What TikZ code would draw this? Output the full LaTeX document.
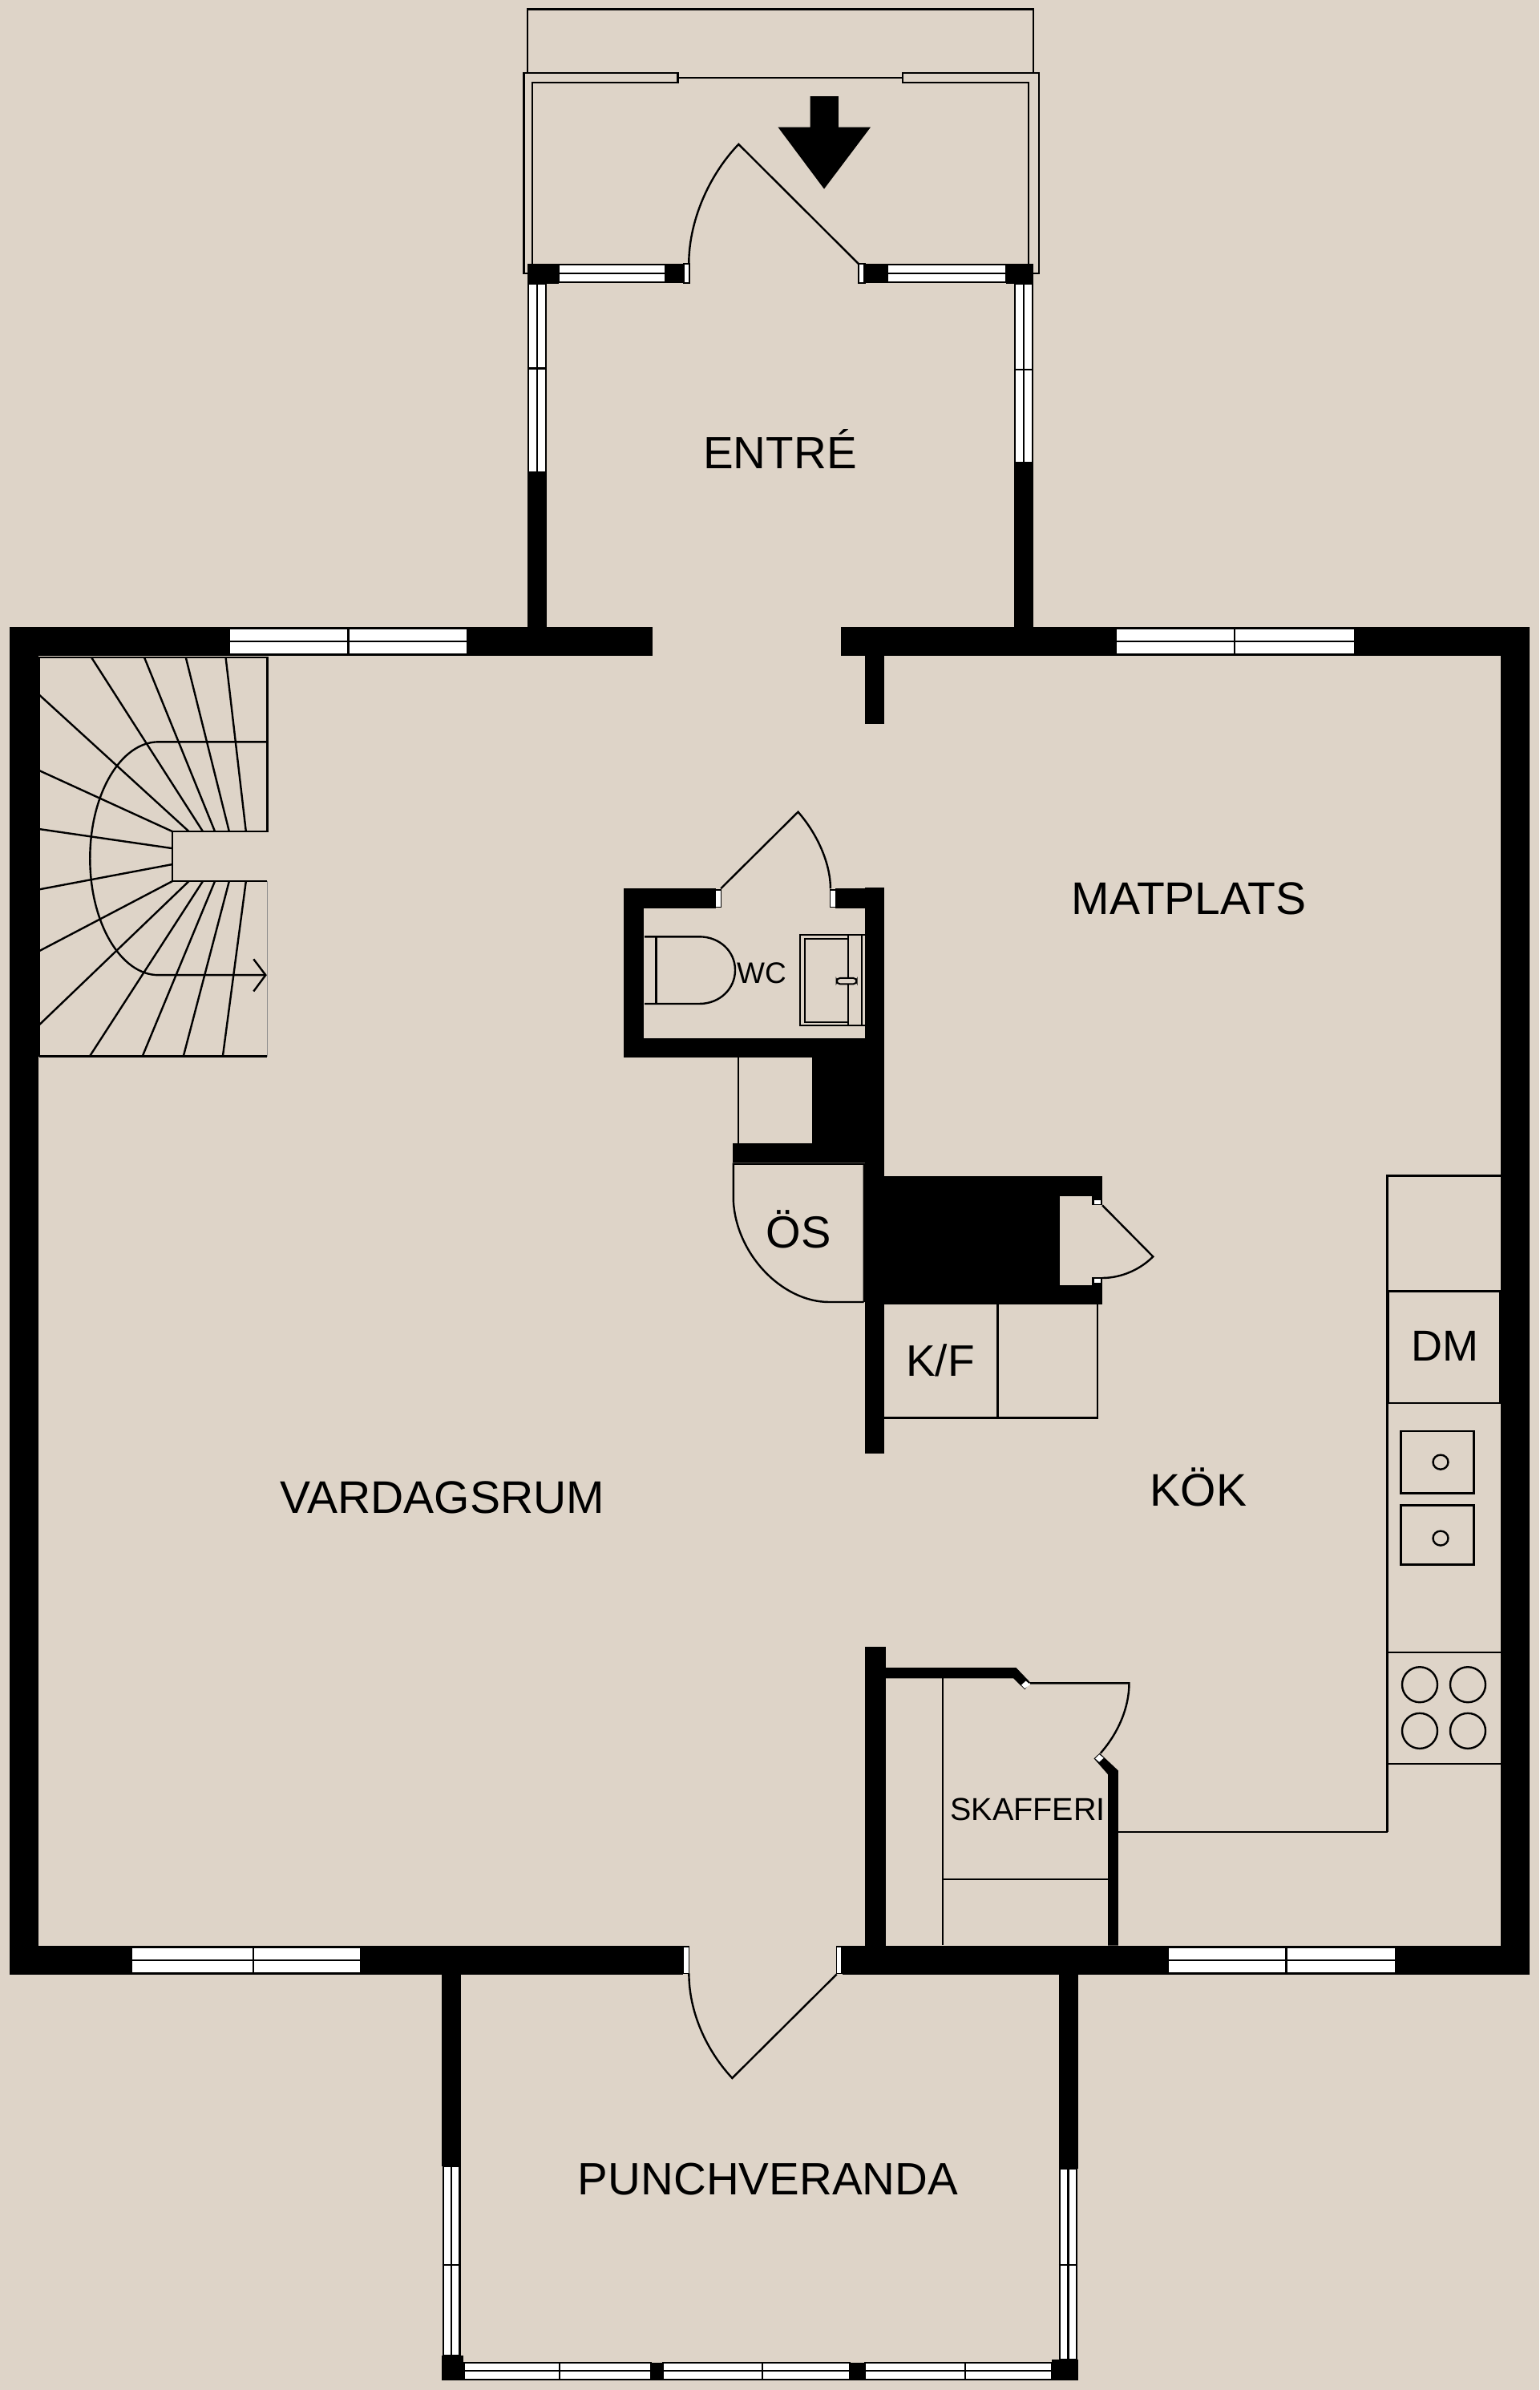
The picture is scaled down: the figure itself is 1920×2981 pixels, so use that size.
\documentclass[tikz,border=0pt]{standalone}
\usepackage{fontspec}
\setmainfont{Liberation Sans}
\definecolor{bgc}{HTML}{DED4C8}
\tikzset{
  thinl/.style={draw=black,line width=2.4pt,line join=miter},
  hair/.style={draw=black,line width=2pt},
  solid wall/.style={fill=black,draw=none},
  room/.style={fill=bgc,draw=none},
  glass/.style={fill=white,draw=black,line width=2.2pt},
  label/.style={anchor=base,inner sep=0pt,text=black},
  z1/.style={shift={(620pt,0pt)},x=.4464pt,y=-.3954pt},
  z2/.style={shift={(0pt,-760pt)},x=.3954pt,y=-.3827pt},
  z3/.style={shift={(760pt,-980pt)},x=.4591pt,y=-.3333pt},
  z4/.style={shift={(880pt,-1440pt)},x=.3954pt,y=-.3333pt},
  z5/.style={shift={(1060pt,-2040pt)},x=.5488pt,y=-.3333pt},
  z6/.style={shift={(1700pt,-1440pt)},x=.3333pt,y=-.5102pt},
  z7/.style={shift={(500pt,-2380pt)},x=.5741pt,y=-.3833pt}
}
\newcommand{\hwin}[4]{\draw[glass] (#1,#3) rectangle (#2,#4); \draw[glass] (#1,{(#3+#4)/2}) -- (#2,{(#3+#4)/2});}
\newcommand{\vwin}[4]{\draw[glass] (#1,#3) rectangle (#2,#4); \draw[glass] ({(#1+#2)/2},#3) -- ({(#1+#2)/2},#4);}
\newcommand{\fs}[1]{\fontsize{#1}{#1}\selectfont}
\begin{document}
\begin{tikzpicture}[x=1pt,y=-1pt]
\useasboundingbox (0,0) rectangle (1920,2981);
\fill[bgc] (0,0) rectangle (1920,2981);

% main walls
\fill[solid wall] (11.5,781.5) rectangle (814,817.5);
\fill[solid wall] (1049,781.5) rectangle (1908,817.5);
\fill[solid wall] (11.5,781.5) rectangle (48,2462.5);
\fill[solid wall] (1872,781.5) rectangle (1908,2462.5);
\fill[solid wall] (11.5,2426.7) rectangle (852,2462.5);
\fill[solid wall] (1050,2426.7) rectangle (1908,2462.5);
\fill[solid wall] (1079,817) rectangle (1103,903);
\fill[solid wall] (1079,1107) rectangle (1103,1813);
\fill[solid wall] (1079,2054) rectangle (1105,2427);

% main windows
\hwin{286}{583}{783.5}{816}
\draw[glass] (434.5,783.5) -- (434.5,816);
\hwin{1392}{1690}{783.5}{816}
\draw[glass] (1540,783.5) -- (1540,816);
\hwin{163.5}{450.5}{2429}{2460.7}
\draw[glass] (315.6,2429) -- (315.6,2460.7);
\hwin{1457}{1740.6}{2429}{2460.7}
\draw[glass] (1604.5,2429) -- (1604.5,2460.7);

% entrance
\begin{scope}[z1]
 \draw[thinl] (85,230) -- (85,29) -- (1498,29) -- (1498,230);
 \draw[thinl] (85,862) -- (75,862) -- (75,230) -- (505,230) -- (505,261) -- (99,261) -- (99,832);
 \draw[thinl] (505,245) -- (1134,245);
 \draw[thinl] (1498,862) -- (1514,862) -- (1514,230) -- (1134,230) -- (1134,261) -- (1485,261) -- (1485,832);
 \fill[black] (875,304) -- (954,304) -- (954,401) -- (1044,401) -- (914,596) -- (785,401) -- (875,401) -- cycle;
 \draw[thinl] (536,832) .. controls (536,700) and (590,555) .. (675,455) -- (1010,832);
 \hwin{172}{470}{834}{890}
 \hwin{1091}{1423}{834}{890}
 \fill[solid wall] (85,832) rectangle (172,895);
 \fill[solid wall] (470,832) rectangle (522,892);
 \fill[solid wall] (1027,832) rectangle (1091,892);
 \fill[solid wall] (1423,832) rectangle (1498,895);
 \draw[glass] (522,832) rectangle (538,892);
 \draw[glass] (1011,832) rectangle (1027,892);
 \vwin{87}{136}{895}{1490}
 \draw[glass] (85,1162) -- (137,1162);
 \vwin{1447}{1496}{895}{1460}
 \draw[glass] (1445,1165) -- (1498,1165);
 \fill[solid wall] (85,1490) rectangle (138,1990);
 \fill[solid wall] (1445,1460) rectangle (1498,1990);
\end{scope}

% stairs
\begin{scope}[z2]
 \draw[thinl] (123,1457) -- (123,156) -- (843,156) -- (843,724) -- (544,724) -- (544,886) -- (843,886);
 \draw[thinl] (123,1457) -- (843,1457);
 \draw[draw=black!45,line width=1pt] (843,886) -- (843,1457);
 \foreach \a/\b/\c/\d in {712/156/776/724,586/156/723/724,455/156/678/724,288/156/640/724,123/278/596/724,123/525/544/724,123/716/544/779,123/913/544/831,123/1114/544/886,123/1355/596/886,284/1455/640/886,450/1455/678/886,579/1455/723/886,703/1455/776/886}
   \draw[thinl] (\a,\b) -- (\c,\d);
 \draw[thinl] (843,432) -- (500,432) .. controls (381,432) and (284,602) .. (284,812) .. controls (284,1022) and (381,1192) .. (500,1192) -- (838,1192);
 \draw[thinl] (800,1140) -- (838,1192) -- (800,1245);
\end{scope}

% WC block
\begin{scope}[z3]
 \fill[solid wall] (40,385) rectangle (747,1018);
 \fill[solid wall] (551,1018) rectangle (747,1410);
 \fill[solid wall] (336,1337) rectangle (747,1410);
 \fill[room] (94,458) rectangle (695,945);
 \fill[room] (289,380) rectangle (615,460);
 \fill[room] (353,1025) rectangle (551,1335);
 \draw[hair] (351,1018) -- (351,1337);
 \draw[glass,line width=1.2pt] (289,390) rectangle (303,455);
 \draw[glass,line width=1.2pt] (600,390) rectangle (615,455);
 \draw[thinl] (303,385) -- (513,98) .. controls (565,180) and (601,290) .. (601,385);
 % toilet
 \draw[thinl] (96,565) -- (245,565) .. controls (300,565) and (342,620) .. (342,690) .. controls (342,760) and (300,816) .. (245,816) -- (96,816);
 \draw[thinl] (127,565) -- (127,816);
 % basin
 \draw[hair] (694,558) -- (519,558) -- (519,898) -- (694,898);
 \draw[hair] (532,574) rectangle (650,884);
 \draw[hair] (650,558) -- (650,898);
 \draw[hair] (687,558) -- (687,898);
 \draw[hair,fill=bgc,rounded corners=4pt] (618,720) rectangle (672,742);
\end{scope}

% chimney block, oesten, K/F
\begin{scope}[z4]
 \fill[solid wall] (565,80) rectangle (1252,560);
 \fill[room] (1117,155) rectangle (1220,488);
 \fill[room] (1220,190) rectangle (1253,460);
 \fill[solid wall] (1220,155) rectangle (1252,190);
 \fill[solid wall] (1220,460) rectangle (1252,488);
 \draw[glass,line width=.8pt] (1226,170) rectangle (1247,188);
 \draw[glass,line width=.8pt] (1226,463) rectangle (1247,481);
 \draw[thinl] (1252,190) -- (1412,382) .. controls (1370,432) and (1310,462) .. (1252,462);
 \draw[thinl] (500,552) -- (390,552) .. controls (240,552) and (95,370) .. (88,170) -- (88,35) -- (500,35) -- (500,552);
 \draw[thinl] (565,985) -- (1236,985) -- (1236,560);
 \draw[thinl] (922,560) -- (922,988);
\end{scope}

% pantry
\begin{scope}[z5]
 \fill[solid wall] (80,120) -- (378,120) -- (410,175) -- (398,202) -- (372,160) -- (80,160) -- cycle;
 \fill[solid wall] (568,440) -- (555,460) -- (587,520) -- (587,1160) -- (610,1160) -- (610,505) -- cycle;
 \fill[white] (400,170) -- (410,183) -- (398,198) -- (390,185) -- cycle;
 \fill[white] (567,445) -- (577,458) -- (567,473) -- (558,460) -- cycle;
 \draw[thinl] (410,178) -- (635,178) .. controls (635,270) and (610,365) .. (570,440);
 \draw[hair] (212,160) -- (212,1158);
 \draw[hair] (212,912) -- (587,912);
 \draw[thinl] (610,735) -- (1222,735);
\end{scope}

% kitchen counter
\begin{scope}[z6]
 \draw[thinl] (92,1656) -- (92,52) -- (516,52);
 \draw[thinl] (92,334) -- (516,334);
 \draw[thinl] (96,334) -- (96,608);
 \draw[thinl] (513,334) -- (513,608);
 \draw[thinl] (92,608) -- (516,608);
 \draw[thinl] (92,1217) -- (516,1217);
 \draw[thinl] (92,1489) -- (516,1489);
 \draw[thinl,line width=2.8pt] (142,676) rectangle (415,828);
 \draw[thinl,line width=2.8pt] (142,858) rectangle (415,1003);
 \draw[thinl] (291,752) circle[x radius=9.5pt,y radius=9pt];
 \draw[thinl] (291,938) circle[x radius=9.5pt,y radius=9pt];
 \foreach \cx in {213,393} \foreach \cy in {1296,1409}
   \draw[thinl] (\cx,\cy) circle[radius=22pt];
\end{scope}

% veranda
\begin{scope}[z7]
 \fill[solid wall] (89,215) rectangle (131,840);
 \fill[solid wall] (1430,215) rectangle (1471,848);
 \fill[solid wall] (89,1455) rectangle (135,1537);
 \fill[solid wall] (1415,1470) rectangle (1471,1537);
 \fill[solid wall] (543,1478) rectangle (570,1537);
 \fill[solid wall] (975,1478) rectangle (1008,1537);
 \vwin{92}{128}{840}{1455}
 \draw[glass] (90,1160) -- (130,1160);
 \vwin{1432}{1468}{848}{1470}
 \draw[glass] (1430,1160) -- (1470,1160);
 \hwin{137}{543}{1479}{1533}
 \draw[glass] (345,1479) -- (345,1533);
 \hwin{570}{975}{1479}{1533}
 \draw[glass] (785,1479) -- (785,1533);
 \hwin{1008}{1415}{1479}{1533}
 \draw[glass] (1226,1479) -- (1226,1533);
 \fill[room] (613,122) rectangle (960,217);
 \draw[glass,line width=1.4pt] (613,125) rectangle (626,212);
 \draw[glass,line width=1.4pt] (947,125) rectangle (958,212);
 \draw[thinl] (626,212) .. controls (626,340) and (665,465) .. (720,553) -- (947,215);
\end{scope}

% labels
\node[label,font=\fs{56.5}] (entre) at (973,584) {ENTRÉ};
\node[label,font=\fs{57}] (matplats) at (1483,1140) {MATPLATS};
\node[label,font=\fs{57}] (vardagsrum) at (552,1887) {VARDAGSRUM};
\node[label,font=\fs{57}] (kok) at (1495,1878) {KÖK};
\node[label,font=\fs{56}] (os) at (996,1556) {ÖS};
\node[label,font=\fs{55}] (kf) at (1173,1716) {K/F};
\node[label,font=\fs{54}] (dm) at (1802,1697) {DM};
\node[label,font=\fs{37}] (wc) at (950,1226) {WC};
\node[label,font=\fs{39.5}] (skafferi) at (1282,2270) {SKAFFERI};
\node[label,font=\fs{56.5}] (punch) at (958,2737) {PUNCHVERANDA};
\end{tikzpicture}
\end{document}
